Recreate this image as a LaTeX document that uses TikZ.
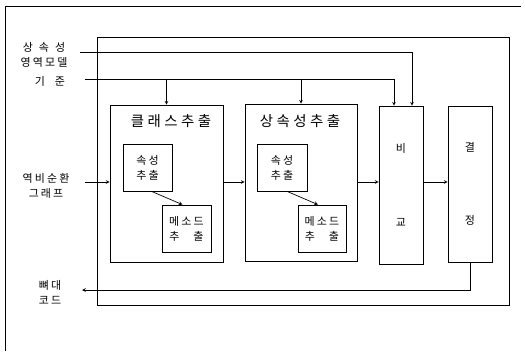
\documentclass[tikz,border=0pt]{standalone}
\usepackage{fontspec}
\setmainfont{Noto Sans CJK KR}[LetterSpace=20]
\newfontfamily\ttlface{Noto Sans CJK KR}[LetterSpace=24]
\usepackage{tikz}

\newcommand\labfont{\fontsize{11}{15}\selectfont}
\newcommand\ttlfont{\ttlface\fontsize{14.5}{16}\selectfont}

\begin{document}
\begin{tikzpicture}[x=1bp,y=-1bp,>=stealth,line width=0.7pt,
  box/.style={draw,inner sep=0pt},
  lbl/.style={font=\labfont,align=center,inner sep=0pt}]
\useasboundingbox (0,0) rectangle (525,351);
% frames
\draw[line width=0.6pt] (5,351) -- (5,6) -- (521,6);
\draw (97,37) rectangle (509,305);
% main boxes
\node[box,minimum width=113bp,minimum height=157bp] (cls) at (166.5,183.5) {};
\node[box,minimum width=112bp,minimum height=157bp] (inh) at (301,182.5) {};
\node[box,minimum width=44bp,minimum height=158bp,font=\labfont,align=center] (cmp) at (401,185) {비\\[59pt]교};
\node[box,minimum width=44bp,minimum height=156bp,font=\labfont,align=center] (dec) at (470,184) {결\\[59pt]정};
\node[font=\ttlfont,inner sep=0pt] (clst) at (171,121) {클래스추출};
\node[font=\ttlfont,inner sep=0pt] (inht) at (300,121) {상속성추출};
% inner boxes
\node[box,lbl,minimum width=49bp,minimum height=47bp] (clsa) at (147.5,167.5) {속성\\추출};
\node[box,lbl,minimum width=49bp,minimum height=47bp] (clsm) at (186.5,228.5) {메소드\\추\hspace{14pt}출};
\node[box,lbl,minimum width=50bp,minimum height=47bp] (inha) at (282,167.5) {속성\\추출};
\node[box,lbl,minimum width=48bp,minimum height=47bp] (inhm) at (322,228.5) {메소드\\추\hspace{14pt}출};
% outside labels
\node[lbl] (mdl) at (44,55) {상\hspace{6pt}속\hspace{6pt}성\\영역모델};
\node[lbl] (std) at (50,81) {기\hspace{10pt}준};
\node[lbl] (dag) at (46,186) {역비순환\\그\hspace{2pt}래\hspace{2pt}프};
\node[lbl] (skl) at (50,292) {뼈대\\코드};
\coordinate (m0) at (80,52);
\coordinate (s0) at (85,79);
\coordinate (g0) at (85,182);
\coordinate (k0) at (82,290);
% connectors
\draw[->] (m0) -| ([xshift=11]cmp.north);
\draw[->] (s0) -| ([xshift=-7]cmp.north);
\draw[->] (cls.north |- s0) -- (cls.north);
\draw[->] (inh.north |- s0) -- (inh.north);
\draw[->] (g0) -- (cls.west |- g0);
\draw[->] (cls.east |- g0) -- (inh.west |- g0);
\draw[->] (inh.east |- g0) -- (cmp.west |- g0);
\draw[->] (cmp.east |- g0) -- (dec.west |- g0);
\draw[->] ([xshift=4]clsa.south) -- ([xshift=-4]clsm.north);
\draw[->] ([xshift=5]inha.south) -- ([xshift=-4]inhm.north);
\draw[->] (dec.south) |- (k0);
\end{tikzpicture}
\end{document}
